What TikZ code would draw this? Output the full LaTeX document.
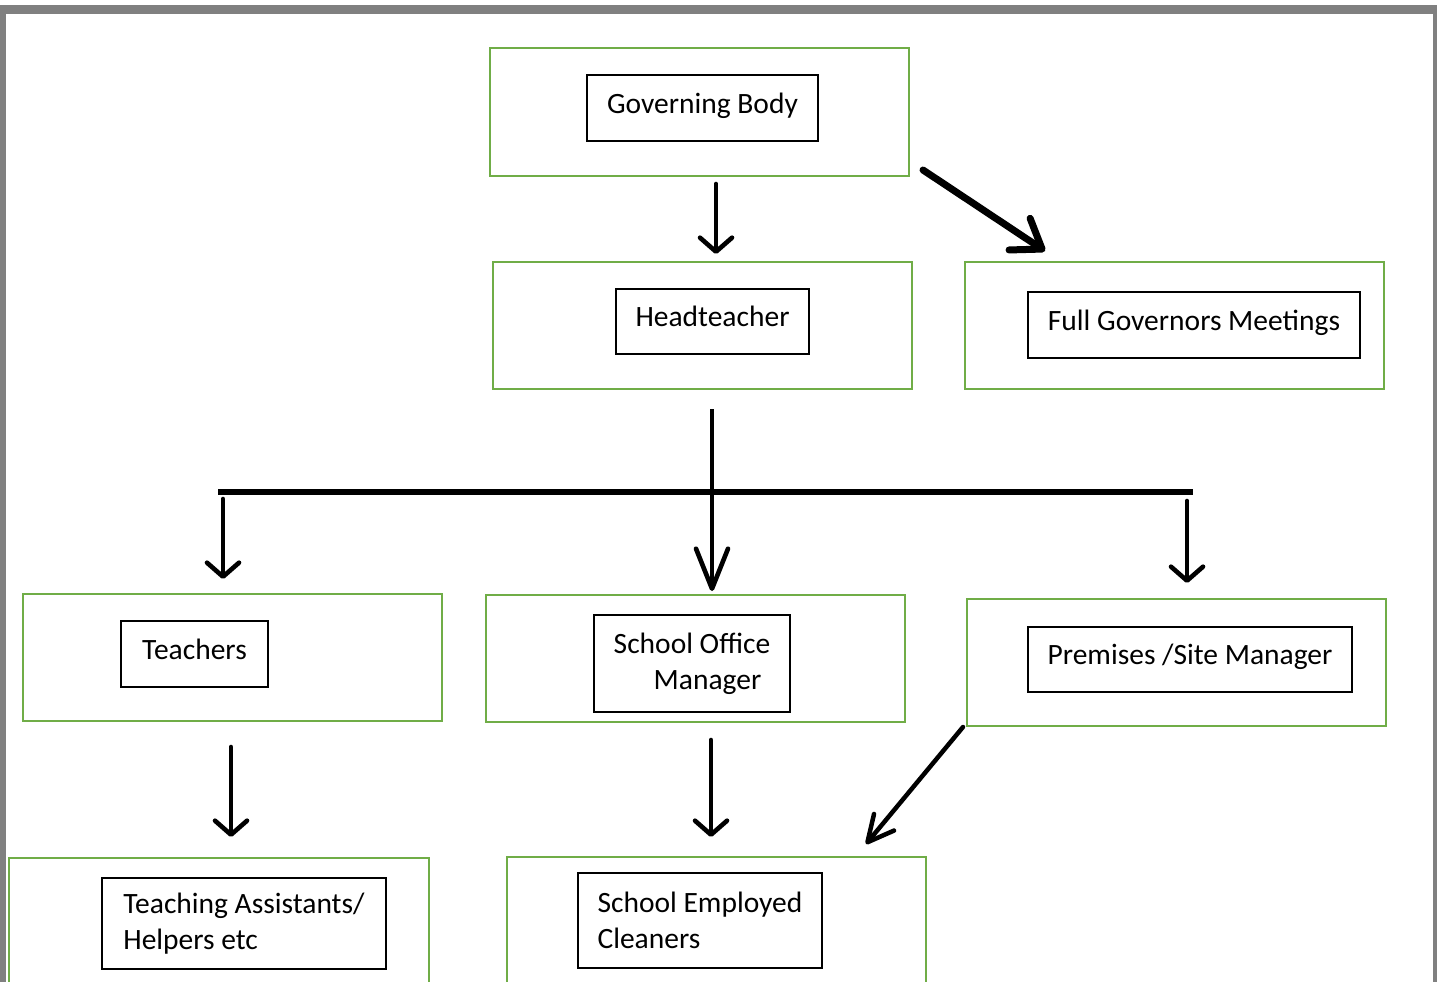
\documentclass[tikz,border=0pt]{standalone}
\usepackage{fontspec}
\setmainfont{Carlito}
\usetikzlibrary{arrows.meta}
\definecolor{grn}{HTML}{70AD47}
\definecolor{frame}{HTML}{808080}
\begin{document}
\begin{tikzpicture}[x=1pt,y=-1pt,
  outer/.style={draw=grn, line width=2.8pt, inner sep=0pt, fill=none},
  inbox/.style={draw=black, line width=1.3pt, inner sep=0pt, font=\fontsize{29.5}{36}\selectfont},
  oneline/.style={text height=1.05em, text depth=0.03em},
  arr/.style={line width=4.6pt, line cap=round, -{Straight Barb[length=14pt,width=32pt,line cap=round,line join=round]}},
  bigarr/.style={line width=7pt, line cap=round, -{Straight Barb[length=27pt,width=38pt,line cap=round,line join=round]}},
  longarr/.style={line width=4.6pt, line cap=butt, -{Straight Barb[length=40pt,width=32pt,line cap=round,line join=round]}},
  diagarr/.style={line width=4.5pt, line cap=round, -{Straight Barb[length=26pt,width=26pt,line cap=round,line join=round]}}
]
\useasboundingbox (0,0) rectangle (1437,982);
\clip (0,0) rectangle (1437,982);
% frame
\fill[white] (0,0) rectangle (1437,982);
\fill[frame] (0,5) rectangle (1437,14);
\fill[frame] (0,5) rectangle (6,982);
\fill[frame] (1433,5) rectangle (1437,982);

% outer green boxes
\node[outer, minimum width=419pt, minimum height=128pt] (gbo) at (699.5,112) {};
\node[outer, minimum width=419pt, minimum height=127pt] (hto) at (702.5,325.5) {};
\node[outer, minimum width=419pt, minimum height=127pt] (fgmo) at (1174.5,325.5) {};
\node[outer, minimum width=419pt, minimum height=127pt] (to) at (232.5,657.5) {};
\node[outer, minimum width=419pt, minimum height=127pt] (somo) at (695.5,658.5) {};
\node[outer, minimum width=419pt, minimum height=127pt] (pmo) at (1176.5,662.5) {};
\node[outer, minimum width=420pt, minimum height=160pt] (tao) at (219,938) {};
\node[outer, minimum width=419pt, minimum height=160pt] (seco) at (716.5,937) {};

% inner boxes with text
\node[inbox, oneline, minimum width=231pt, minimum height=66pt] (gb) at (702.5,108) {Governing Body};
\node[inbox, oneline, minimum width=193pt, minimum height=65pt] (ht) at (712.5,321.5) {Headteacher};
\node[inbox, oneline, minimum width=332pt, minimum height=66pt] (fgm) at (1194,325) {Full Governors Meetings};
\node[inbox, oneline, minimum width=147pt, minimum height=66pt] (t) at (194.5,654) {Teachers};
\node[inbox, minimum width=196pt, minimum height=97pt, align=center] (som) at (692,663.5) {School Office\\\hspace{31pt}Manager};
\node[inbox, oneline, minimum width=324pt, minimum height=65pt] (pm) at (1190,659.5) {Premises /Site Manager};
\node[inbox, minimum width=284pt, minimum height=91pt, align=left] (ta) at (244,923.5) {Teaching Assistants/\\Helpers etc};
\node[inbox, minimum width=244pt, minimum height=95pt, align=left] (sec) at (700,920.5) {School Employed\\Cleaners};

% connector end points
\coordinate (a1s) at (716,184);
\coordinate (a1e) at (716,254);
\coordinate (a2s) at (923,170);
\coordinate (a2e) at (1045,251);
\coordinate (a3s) at (712,409);
\coordinate (a3e) at (712,591);
\coordinate (barl) at (218,492);
\coordinate (barr) at (1193,492);
\coordinate (a4s) at (223,499);
\coordinate (a4e) at (223,579);
\coordinate (a5s) at (1187,501);
\coordinate (a5e) at (1187,583);
\coordinate (a6s) at (231,747);
\coordinate (a6e) at (231,837);
\coordinate (a7s) at (711,740);
\coordinate (a7e) at (711,837);
\coordinate (a8s) at (963,727);
\coordinate (a8e) at (866,844);

% connectors
\draw[arr] (a1s) -- (a1e);
\draw[bigarr] (a2s) -- (a2e);
\draw[line width=6.5pt] (barl) -- (barr);
\draw[longarr] (a3s) -- (a3e);
\draw[arr] (a4s) -- (a4e);
\draw[arr] (a5s) -- (a5e);
\draw[arr] (a6s) -- (a6e);
\draw[arr] (a7s) -- (a7e);
\draw[diagarr] (a8s) -- (a8e);
\end{tikzpicture}
\end{document}
